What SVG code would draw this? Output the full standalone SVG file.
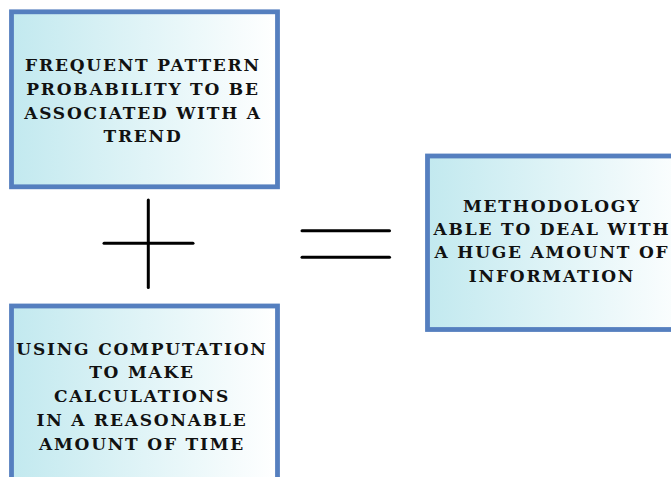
<svg xmlns="http://www.w3.org/2000/svg" width="671" height="477" viewBox="0 0 671 477">
<defs>
<linearGradient id="g" x1="0" y1="0" x2="1" y2="0">
<stop offset="0" stop-color="#c2e9ef"/>
<stop offset="1" stop-color="#ffffff"/>
</linearGradient>
<style>
.box{fill:url(#g);stroke:#557fbf;stroke-width:4.8}
.t{font-family:"DejaVu Serif","Liberation Serif",serif;font-weight:bold;font-size:17px;fill:#111;text-anchor:middle;letter-spacing:1.8px}
.op{stroke:#000;stroke-width:3;stroke-linecap:round;fill:none}
</style>
</defs>
<g id="node-pattern">
<rect class="box" x="11.5" y="11.8" width="266" height="175"/>
<text class="t" x="143" y="71">FREQUENT PATTERN</text>
<text class="t" x="143" y="94.8">PROBABILITY TO BE</text>
<text class="t" x="143" y="118.6">ASSOCIATED WITH A</text>
<text class="t" x="143" y="142.4">TREND</text>
</g>
<g id="node-computation">
<rect class="box" x="11.5" y="306" width="266" height="200"/>
<text class="t" x="142" y="354.5">USING COMPUTATION</text>
<text class="t" x="142" y="378.4">TO MAKE</text>
<text class="t" x="142" y="402.3">CALCULATIONS</text>
<text class="t" x="142" y="426.2">IN A REASONABLE</text>
<text class="t" x="142" y="450.1">AMOUNT OF TIME</text>
</g>
<g id="node-methodology">
<rect class="box" x="427.5" y="156" width="266" height="173.5"/>
<text class="t" x="552" y="211.7">METHODOLOGY</text>
<text class="t" x="552" y="235">ABLE TO DEAL WITH</text>
<text class="t" x="552" y="258.3">A HUGE AMOUNT OF</text>
<text class="t" x="552" y="281.6">INFORMATION</text>
</g>
<g id="connectors">
<line class="op" x1="104" y1="243.3" x2="193" y2="243.3"/>
<line class="op" x1="148.3" y1="200" x2="148.3" y2="287.5"/>
<line class="op" x1="302" y1="230.7" x2="389.5" y2="230.7"/>
<line class="op" x1="302" y1="257.3" x2="389.5" y2="257.3"/>
</g>
</svg>
